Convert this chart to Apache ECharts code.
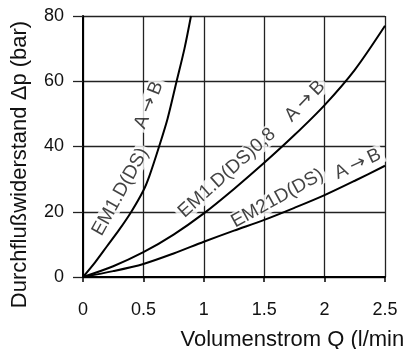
<!DOCTYPE html>
<html>
<head>
<meta charset="utf-8">
<script src="https://cdn.jsdelivr.net/npm/echarts@6/dist/echarts.min.js"></script>
<style>
  html, body { margin: 0; padding: 0; background: #fff; }
  #chart { width: 403px; height: 349px; }
</style>
</head>
<body>
<div id="chart"></div>
<script>
// Flow rate Q (l/min) against pressure drop Δp (bar) for three valve variants
const xTicks = [0, 0.5, 1, 1.5, 2, 2.5];
const yTicks = [0, 20, 40, 60, 80];

// EM1.D(DS)
const em1Q  = [0, 0.1, 0.2, 0.3, 0.4, 0.5, 0.55, 0.63, 0.7, 0.775, 0.84, 0.894];
const em1Dp = [0, 4.5, 9.5, 14.5, 20, 26.5, 31, 40, 48.5, 60, 70, 80];

// EM1.D(DS)0,8
const em108Q  = [0, 0.25, 0.5, 0.75, 1, 1.25, 1.5, 1.75, 2, 2.25, 2.5];
const em108Dp = [0, 3.3, 7.6, 13, 19.5, 27, 35, 43.5, 52.7, 63.5, 77];

// EM21D(DS)
const em21Q  = [0, 0.25, 0.5, 0.75, 1, 1.25, 1.5, 1.75, 2, 2.25, 2.5];
const em21Dp = [0, 1.8, 4, 7.2, 10.8, 14.2, 17.5, 21.2, 25.1, 29.5, 34.1];

// Curve captions: text, anchor (Q, Δp), rotation in degrees
const captionText  = ['EM1.D(DS)', 'A{arr|\u2192}B', 'EM1.D(DS)0,8', 'A{arr|\u2192}B', 'EM21D(DS)', 'A{arr|\u2192}B'];
const captionQ     = [0.31, 0.546, 1.192, 1.838, 1.610, 2.275];
const captionDp    = [26.1, 52.7, 31.9, 53.9, 24.1, 34.6];
const captionAngle = [61, 68, 42, 46, 29, 25];

const zip = (a, b) => a.map((v, i) => [v, b[i]]);

const FONT = '"Liberation Sans", Arial, Helvetica, sans-serif';
const INK = '#111';
const GRID = '#222';

const chart = echarts.init(document.getElementById('chart'), null, { renderer: 'canvas' });

const curve = (name, q, dp) => ({
  name, type: 'line', data: zip(q, dp), smooth: 0.3, showSymbol: false, z: 3,
  lineStyle: { color: '#000', width: 2 }, silent: true
});

chart.setOption({
  animation: false,
  backgroundColor: '#fff',
  grid: { left: 83, right: 18, top: 16, bottom: 72, containLabel: false, outerBoundsMode: 'none' },
  xAxis: {
    type: 'value', min: xTicks[0], max: xTicks[xTicks.length - 1], interval: 0.5,
    name: 'Volumenstrom Q (l/min)', nameLocation: 'middle', nameGap: 52,
    nameTextStyle: { fontFamily: FONT, fontSize: 22, color: INK, padding: [0, 0, 0, 124] },
    axisLine: { show: true, lineStyle: { color: '#000', width: 2 } },
    axisTick: { show: true, length: 5, lineStyle: { color: '#000', width: 1.5 } },
    axisLabel: { fontFamily: FONT, fontSize: 18, color: INK, margin: 24,
                 formatter: v => String(v) },
    splitLine: { show: true, lineStyle: { color: GRID, width: 1.3 } }
  },
  yAxis: {
    type: 'value', min: yTicks[0], max: yTicks[yTicks.length - 1], interval: 20,
    name: 'Durchflußwiderstand \u0394p (bar)', nameLocation: 'middle', nameGap: 52,
    nameTextStyle: { fontFamily: FONT, fontSize: 22, color: INK, padding: [0, 36, 0, 0] },
    axisLine: { show: true, lineStyle: { color: '#000', width: 2 } },
    axisTick: { show: true, length: 10, lineStyle: { color: GRID, width: 1.3 } },
    axisLabel: { fontFamily: FONT, fontSize: 18, color: INK, margin: 19 },
    splitLine: { show: true, lineStyle: { color: GRID, width: 1.3 } }
  },
  series: [
    curve('EM1.D(DS)', em1Q, em1Dp),
    curve('EM1.D(DS)0,8', em108Q, em108Dp),
    curve('EM21D(DS)', em21Q, em21Dp),
    {
      name: 'captions', type: 'scatter', symbolSize: 0, z: 1, silent: true,
      data: captionText.map((t, i) => ({
        value: [captionQ[i], captionDp[i]],
        label: {
          show: true, formatter: t, rotate: captionAngle[i], position: 'inside',
          align: 'center', verticalAlign: 'middle',
          fontFamily: FONT, fontSize: 19, color: INK,
          backgroundColor: '#fff', padding: [0, 3],
          rich: { arr: { fontFamily: '"DejaVu Sans", sans-serif', fontSize: 19, color: INK, padding: [0, 4] } }
        }
      }))
    }
  ]
});
</script>
</body>
</html>
